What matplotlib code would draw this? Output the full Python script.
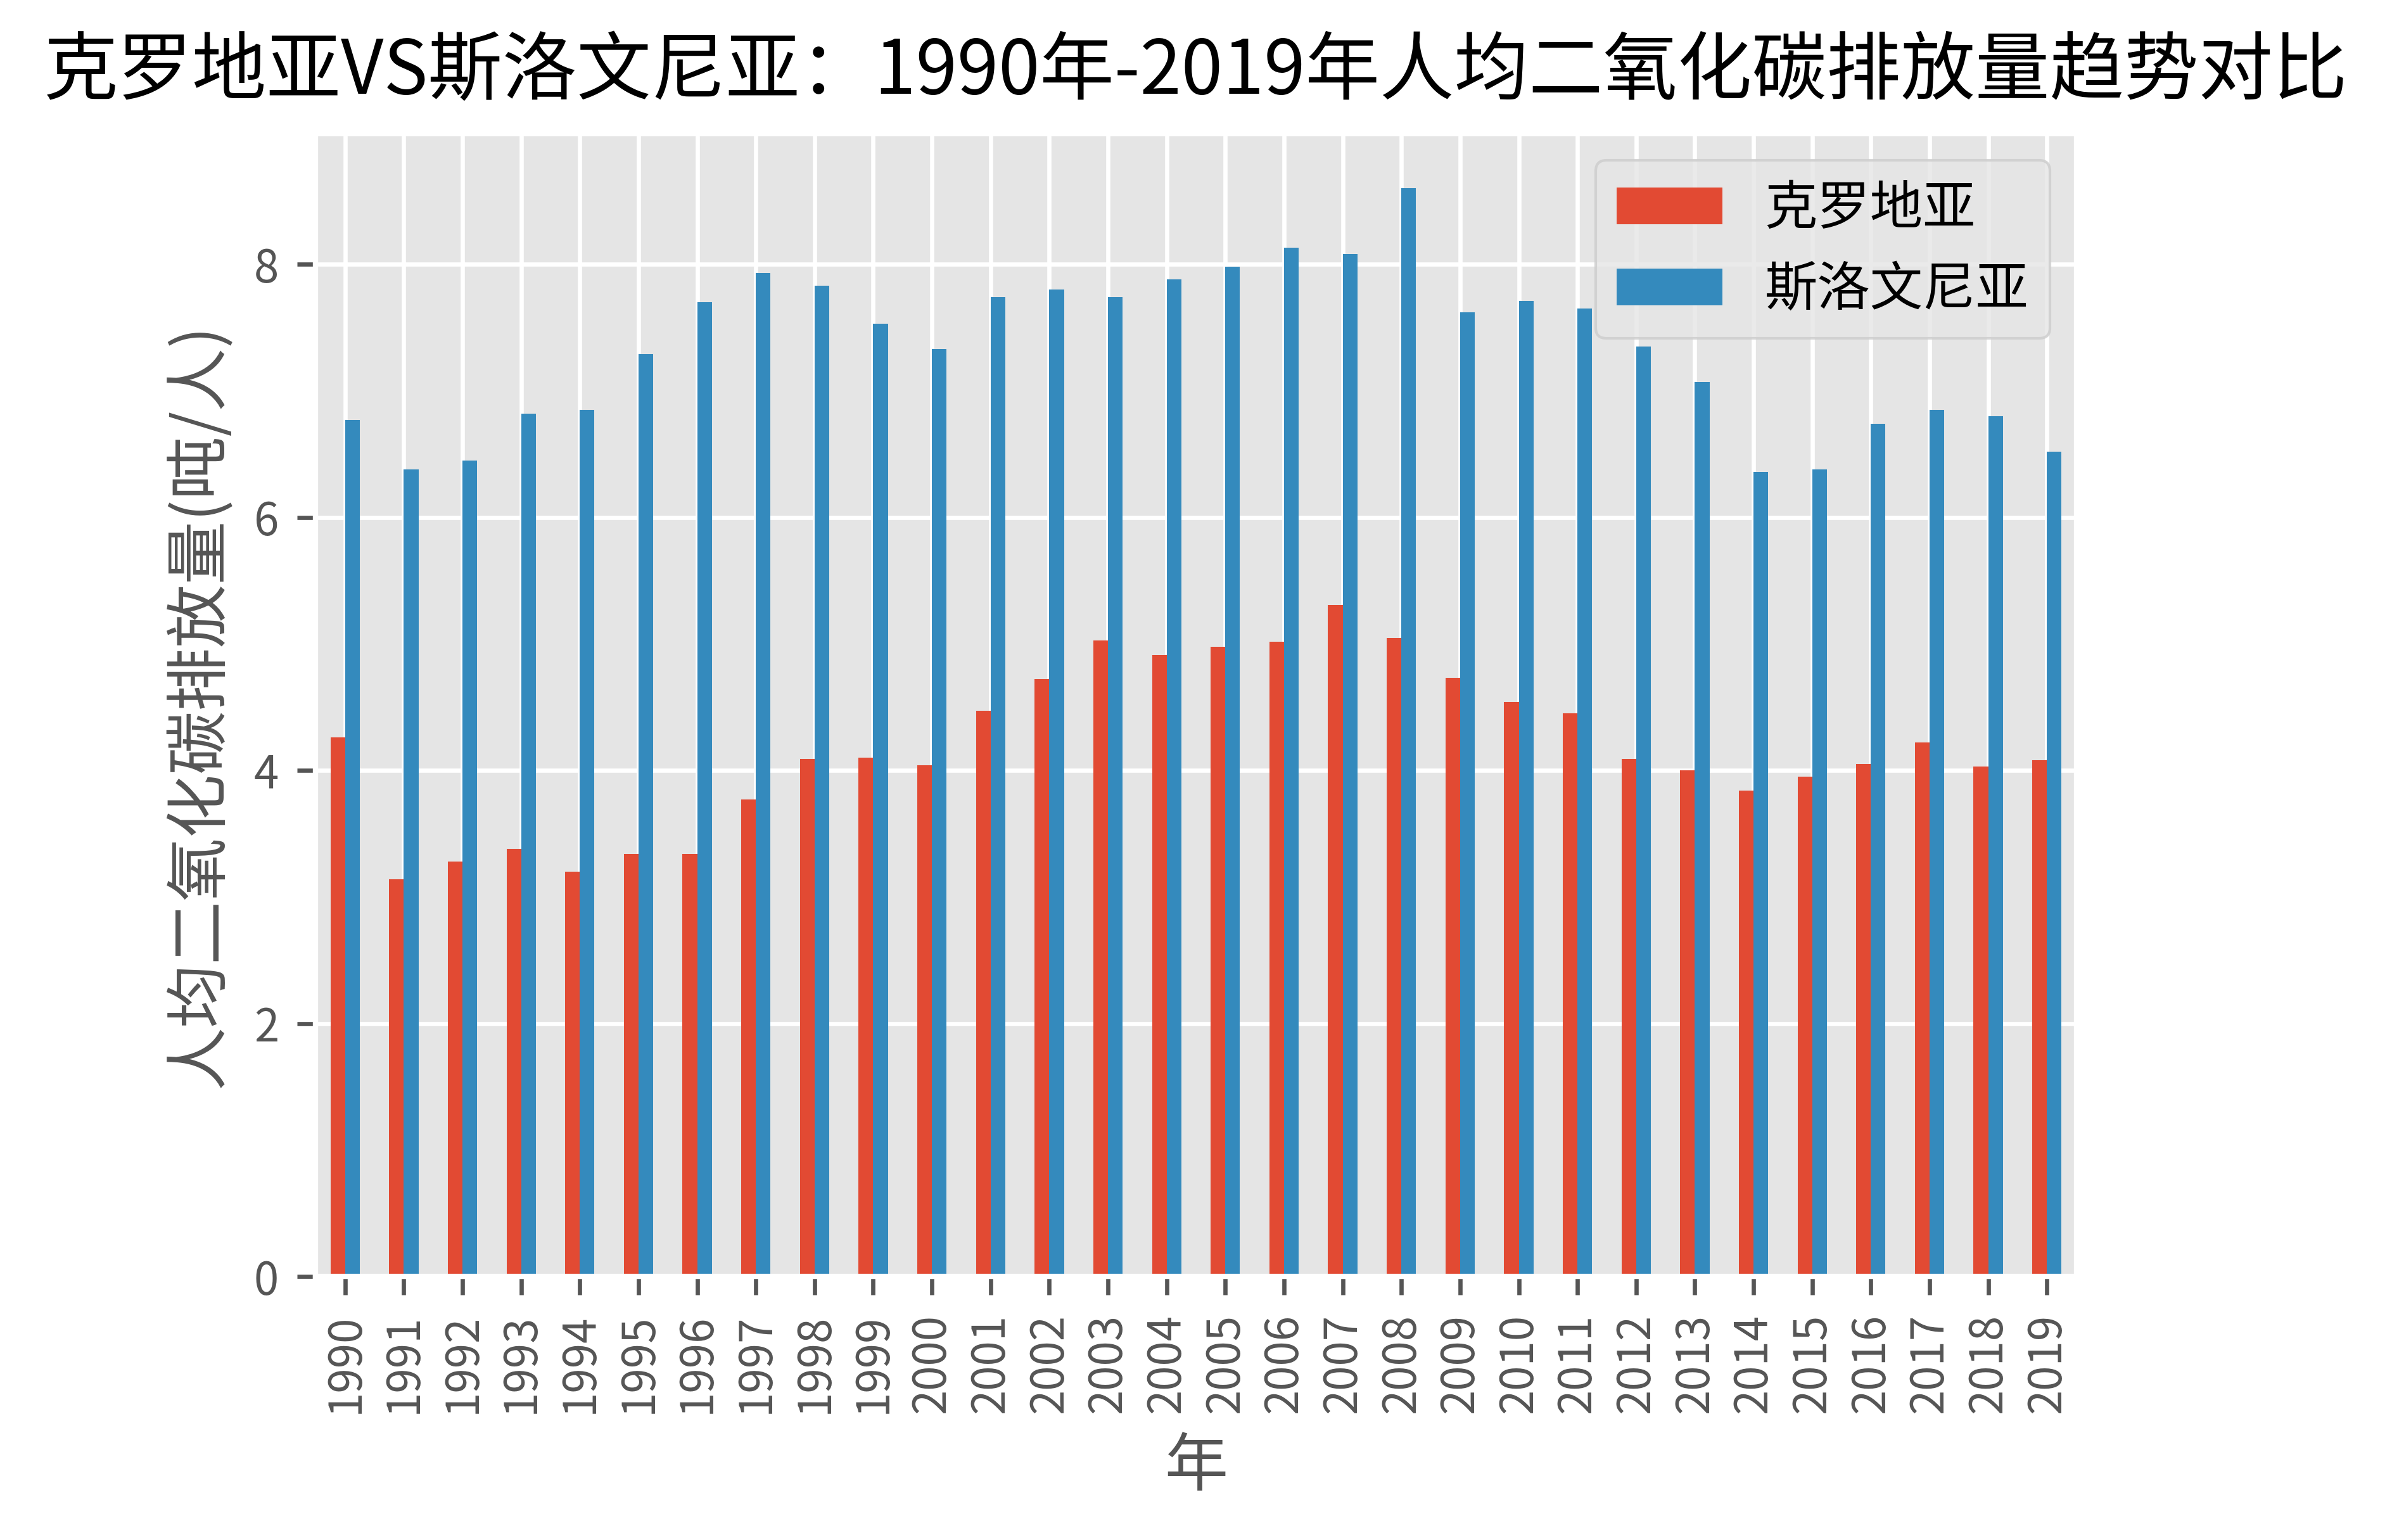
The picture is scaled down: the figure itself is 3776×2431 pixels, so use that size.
import matplotlib
matplotlib.use("Agg")
import matplotlib.pyplot as plt
import numpy as np

plt.style.use("ggplot")
plt.rcParams['font.family'] = ['Noto Sans CJK SC', 'DejaVu Sans']
plt.rcParams['axes.unicode_minus'] = False

years = list(range(1990, 2020))
croatia = [4.26, 3.14, 3.28, 3.38, 3.20, 3.34, 3.34, 3.77, 4.09, 4.10,
           4.04, 4.47, 4.72, 5.03, 4.91, 4.98, 5.02, 5.31, 5.05, 4.73,
           4.54, 4.45, 4.09, 4.00, 3.84, 3.95, 4.05, 4.22, 4.03, 4.08]
slovenia = [6.77, 6.38, 6.45, 6.82, 6.85, 7.29, 7.70, 7.93, 7.83, 7.53,
            7.33, 7.74, 7.80, 7.74, 7.88, 7.98, 8.13, 8.08, 8.60, 7.62,
            7.71, 7.65, 7.35, 7.07, 6.36, 6.38, 6.74, 6.85, 6.80, 6.52]
series_names = ['克罗地亚', '斯洛文尼亚']

fig = plt.figure(figsize=(3776/600, 2431/600), dpi=600)
ax = fig.add_axes([0.132, 0.171, 0.736, 0.742])

x = np.arange(len(years))
w = 0.25
ax.bar(x - w/2, croatia, width=w, color='#E24A33', label=series_names[0])
ax.bar(x + w/2, slovenia, width=w, color='#348ABD', label=series_names[1])
ax.set_xlim(-0.5, len(years) - 0.5)
ax.set_xticks(x)
ax.set_xticklabels([str(y) for y in years], rotation=90, fontsize=8.5)
ax.set_yticks([0, 2, 4, 6, 8])
ax.tick_params(axis='y', labelsize=8.5)
ax.set_xlabel('年', fontsize=12)
ax.set_ylabel('人均二氧化碳排放量(吨/人)', fontsize=12)
fig.suptitle('克罗地亚VS斯洛文尼亚：1990年-2019年人均二氧化碳排放量趋势对比',
             x=0.5, y=0.978, va='top',
             fontsize=14.1, color='black', fontweight='medium')
ax.legend(loc='upper right', fontsize=10)

fig.savefig('out.png', dpi=600)
